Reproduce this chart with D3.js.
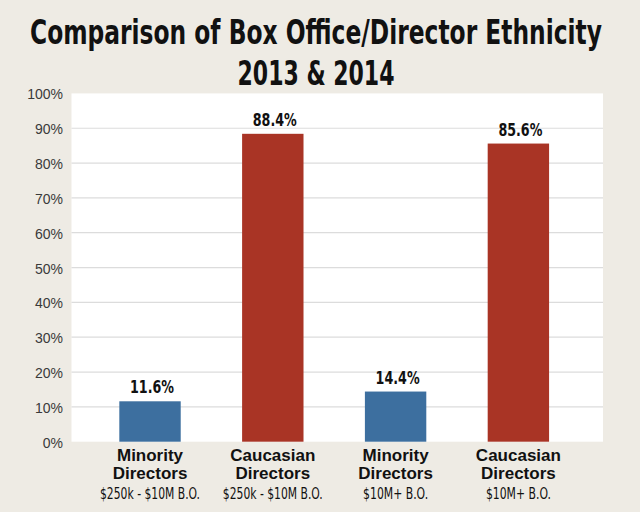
<!DOCTYPE html>
<html>
<head>
<meta charset="utf-8">
<script src="https://cdn.jsdelivr.net/npm/d3@7"></script>
<style>
  body { margin: 0; background: #eeebe4; }
  svg { display: block; }
</style>
</head>
<body>
<div id="chart"></div>
<script>
// data
var groups = ["Minority", "Caucasian", "Minority", "Caucasian"];
var subLabels = ["$250k - $10M B.O.", "$250k - $10M B.O.", "$10M+ B.O.", "$10M+ B.O."];
var values = [11.6, 88.4, 14.4, 85.6];
var barColors = ["#3d6f9f", "#a93425", "#3d6f9f", "#a93425"];
var yTicks = [0, 10, 20, 30, 40, 50, 60, 70, 80, 90, 100];
var titleLines = ["Comparison of Box Office/Director Ethnicity", "2013 & 2014"];

var narrow = "'DejaVu Sans Condensed', 'Liberation Sans Narrow', sans-serif";
var plain = "'Liberation Sans', Arial, Helvetica, sans-serif";

var W = 640, H = 512;
var svg = d3.select("#chart")
  .append("svg")
    .attr("width", W)
    .attr("height", H);

svg.append("rect")
  .attr("width", W).attr("height", H)
  .attr("fill", "#eeebe4");

// title: squeeze horizontally to the width of the original
var titleW = [572, 157], titleY = [44, 85];
titleLines.forEach(function (t, i) {
  var g = svg.append("g");
  var txt = g.append("text")
    .attr("x", 0).attr("y", 0)
    .attr("text-anchor", "middle")
    .style("font-family", narrow)
    .style("font-weight", "bold")
    .style("font-size", "34px")
    .attr("fill", "#111")
    .text(t);
  var len = txt.node().getComputedTextLength();
  g.attr("transform", "translate(316," + titleY[i] + ") scale(" + (titleW[i] / len) + ",1)");
});

// plot area
var plotLeft = 71.5, plotRight = 603;

var y = d3.scaleLinear()
  .domain([0, 100])
  .range([441.7, 93.4]);

var x = d3.scaleBand()
  .domain(d3.range(values.length))
  .range([70.2, 598.2])
  .paddingInner(0.5)
  .paddingOuter(0.4);

svg.append("rect")
  .attr("x", plotLeft)
  .attr("y", y(100))
  .attr("width", plotRight - plotLeft)
  .attr("height", y(0) - y(100))
  .attr("fill", "#ffffff");

// gridlines
svg.selectAll(".grid")
  .data(yTicks.filter(function (d) { return d > 0 && d < 100; }))
  .enter().append("line")
  .attr("class", "grid")
  .attr("x1", plotLeft)
  .attr("x2", plotRight)
  .attr("y1", function (d) { return y(d); })
  .attr("y2", function (d) { return y(d); })
  .attr("stroke", "#dcdcdc")
  .attr("stroke-width", 1.2);

// y labels
svg.selectAll(".ylab")
  .data(yTicks)
  .enter().append("text")
  .attr("class", "ylab")
  .attr("x", 63)
  .attr("y", function (d) { return y(d) + 6; })
  .attr("text-anchor", "end")
  .style("font-family", plain)
  .style("font-size", "14px")
  .attr("fill", "#3a3a3a")
  .text(function (d) { return d + "%"; });

// bars
svg.selectAll(".bar")
  .data(values)
  .enter().append("rect")
  .attr("class", "bar")
  .attr("x", function (d, i) { return x(i); })
  .attr("y", function (d) { return y(d); })
  .attr("width", x.bandwidth())
  .attr("height", function (d) { return y(0) - y(d); })
  .attr("fill", function (d, i) { return barColors[i]; });

// value labels
svg.selectAll(".bartext")
  .data(values)
  .enter().append("text")
  .attr("class", "bartext")
  .attr("text-anchor", "middle")
  .attr("x", function (d, i) { return x(i) + x.bandwidth() / 2 + 2; })
  .attr("y", function (d) { return y(d) - 8; })
  .attr("textLength", 44)
  .attr("lengthAdjust", "spacingAndGlyphs")
  .style("font-family", narrow)
  .style("font-weight", "bold")
  .style("font-size", "17px")
  .attr("fill", "#111")
  .text(function (d) { return d.toFixed(1) + "%"; });

// category labels
var cat = svg.selectAll(".cat")
  .data(groups)
  .enter().append("g")
  .attr("class", "cat")
  .attr("transform", function (d, i) {
    return "translate(" + (x(i) + x.bandwidth() / 2) + ",0)";
  });

cat.append("text")
  .attr("y", 461)
  .attr("text-anchor", "middle")
  .style("font-family", plain)
  .style("font-weight", "bold")
  .style("font-size", "17px")
  .attr("fill", "#111")
  .text(function (d) { return d; });

cat.append("text")
  .attr("y", 479)
  .attr("text-anchor", "middle")
  .style("font-family", plain)
  .style("font-weight", "bold")
  .style("font-size", "17px")
  .attr("fill", "#111")
  .text("Directors");

cat.append("text")
  .attr("y", 499)
  .attr("text-anchor", "middle")
  .attr("textLength", function (d, i) { return subLabels[i].length > 12 ? 100 : 65; })
  .attr("lengthAdjust", "spacingAndGlyphs")
  .style("font-family", narrow)
  .style("font-size", "15px")
  .attr("fill", "#111")
  .text(function (d, i) { return subLabels[i]; });
</script>
</body>
</html>
